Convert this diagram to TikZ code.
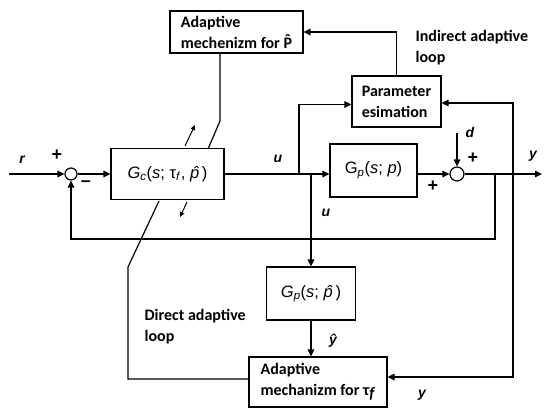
\documentclass[tikz,border=0pt]{standalone}
\usepackage{fontspec}
\setmainfont{Carlito}
\newfontfamily\lsans{Liberation Sans}
\usetikzlibrary{arrows.meta}
\newcommand\myhatP{\accent"02C6 P}
\begin{document}
\begin{tikzpicture}[x=1pt,y=-1pt,line width=1.2pt,
  >={Triangle[length=7pt,width=6.5pt]},
  blk/.style={draw,line width=1.2pt,inner sep=0pt,align=left,font=\bfseries\fontsize{16}{21}\selectfont},
  mblk/.style={draw,line width=1.2pt,inner sep=0pt,font=\lsans\fontsize{16.5}{18}\selectfont},
  sumc/.style={draw,circle,line width=1.2pt,inner sep=0pt},
  lab/.style={inner sep=0pt,font=\lsans\bfseries\itshape\fontsize{14}{16}\selectfont},
  pm/.style={inner sep=0pt,font=\lsans\bfseries\fontsize{18}{18}\selectfont},
  txt/.style={inner sep=0pt,align=left,anchor=west,font=\bfseries\fontsize{16}{21}\selectfont},
  small/.style={line width=1pt,-{Triangle[length=5pt,width=4.5pt]}}]
\useasboundingbox (0,0) rectangle (550,418);
% blocks
\node[blk,minimum width=133pt,minimum height=42pt] (adP) at (236.5,32) {Adaptive\\mechenizm for \myhatP};
\node[blk,minimum width=89pt,minimum height=51pt] (param) at (396.5,101.5) {Parameter\\esimation};
\node[mblk,minimum width=113pt,minimum height=51pt] (Gc) at (167.5,174) {\textit{G}\textsubscript{\textit{c}}(\textit{s}; τ\textsubscript{\textit{f}}, \textit{\^{p}})};
\node[mblk,minimum width=87pt,minimum height=53pt] (Gp) at (373.5,170.5) {G\textsubscript{\textit{p}}(\textit{s}; \textit{p})};
\node[mblk,minimum width=89pt,minimum height=53pt] (Gph) at (311,293.5) {\textit{G}\textsubscript{\textit{p}}(\textit{s}; \textit{\^{p}})};
\node[blk,minimum width=138pt,minimum height=50pt] (tau) at (318,382) {Adaptive\\mechanizm for τ\raisebox{-3pt}{\textit{f}}};
\node[sumc,minimum size=12pt] (sum1) at (71,174) {};
\node[sumc,minimum size=14pt] (sum2) at (457,174) {};
% coordinates
\coordinate (rin) at (9,174);
\coordinate (j1) at (299,174);
\coordinate (j2) at (311,174);
\coordinate (dIn) at (457,133);
\coordinate (yout) at (542,174);
\coordinate (j3) at (495,174);
\coordinate (j4) at (513,174);
\coordinate (c1) at (220,121);
\coordinate (c2) at (208,149);
\coordinate (c3) at (159,201);
\coordinate (c4) at (128,267);
\coordinate (c5) at (128,379);
\coordinate (a1) at (185,146);
\coordinate (a2) at (195,125);
\coordinate (a3) at (187,202);
\coordinate (a4) at (180,217);
% connectors
\draw[->] (rin) -- (sum1.west);
\draw[->] (sum1.east) -- (Gc.west);
\draw[->] (Gc.east) -- (Gp.west |- Gc.east);
\draw[->] (j1) |- ([yshift=-3pt]param.west);
\draw[->] (j2) -- (Gph.north);
\draw[->] (Gph.south) -- (tau.north -| Gph.south);
\draw[->] (Gp.east |- sum2.west) -- (sum2.west);
\draw[->] (dIn) -- (sum2.north);
\draw[->] (sum2.east) -- (yout);
\draw[->] (j3) -- ++(0,65) -| (sum1.south);
\draw[->] (j4) |- ([yshift=-1.5pt]param.east);
\draw[->] (j4) |- ([yshift=5pt]tau.east);
\draw[->] (param.north) |- (adP.east);
\draw (adP.south -| c1) -- (c1) -- (c2);
\draw (c3) -- (c4) -- (c5) -- (tau.west |- c5);
\draw[small] (a1) -- (a2);
\draw[small] (a3) -- (a4);
% labels
\node[lab] (lr) at (22,160) {r};
\node[pm] (p1) at (57,155) {+};
\node[pm] (m1) at (86,184) {–};
\node[lab] (lu1) at (278,159) {u};
\node[lab] (lu2) at (326,213) {u};
\node[lab] (ld) at (470,132) {d};
\node[pm] (p2) at (473,158) {+};
\node[pm] (p3) at (433,186) {+};
\node[lab] (ly1) at (533,156) {y};
\node[lab] (lyh) at (333,341) {\^{y}};
\node[lab] (ly2) at (422,395) {y};
\node[txt] (ind) at (415,48) {Indirect adaptive\\loop};
\node[txt] (dir) at (144,327) {Direct adaptive\\loop};
\end{tikzpicture}
\end{document}
